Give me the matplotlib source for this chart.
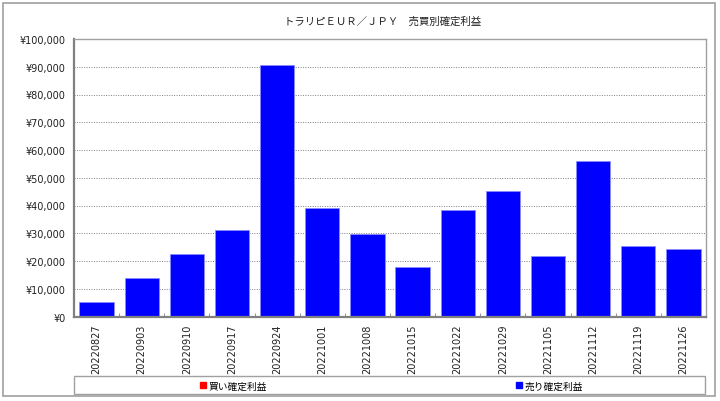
import matplotlib
matplotlib.use('Agg')
import matplotlib.pyplot as plt
from matplotlib.patches import Rectangle, Patch
from matplotlib.ticker import FuncFormatter, FixedLocator
import numpy as np

plt.rcParams['font.family'] = ['DejaVu Sans', 'Noto Sans CJK JP']

weeks = ['20220827', '20220903', '20220910', '20220917', '20220924', '20221001', '20221008',
         '20221015', '20221022', '20221029', '20221105', '20221112', '20221119', '20221126']
buy_profit = [0, 0, 0, 0, 0, 0, 0, 0, 0, 0, 0, 0, 0, 0]
sell_profit = [5400, 14000, 22600, 31000, 90500, 39000, 29600,
               17800, 38400, 45400, 21800, 55900, 25400, 24200]

title = 'トラリピＥＵＲ／ＪＰＹ　売買別確定利益'
buy_label = '買い確定利益'
sell_label = '売り確定利益'

W, H = 720, 402
fig = plt.figure(figsize=(W / 100, H / 100), dpi=100)
ax = fig.add_axes([74 / W, 1 - 317.5 / H, 632 / W, 277.5 / H])

x = np.arange(len(weeks))
ax.bar(x, buy_profit, width=0.76, color='#ff0000', edgecolor='#ff8080', linewidth=0.6)
ax.bar(x, sell_profit, width=0.76, bottom=buy_profit, color='#0000ff',
       edgecolor='#8c8cff', linewidth=0.6)

ax.set_xlim(-0.5, len(weeks) - 0.5)
ax.set_ylim(0, 100000)
ax.yaxis.set_major_locator(FixedLocator(np.arange(0, 100001, 10000)))
ax.yaxis.set_major_formatter(FuncFormatter(lambda v, p: '¥{:,.0f}'.format(v)))
ax.grid(axis='y', linestyle=(0, (1, 1.5)), color='#808080', linewidth=0.7)
ax.set_axisbelow(True)

ax.set_xticks(x)
ax.set_xticklabels(weeks, rotation=90, fontsize=7, color='#202020')
ax.set_xticks(np.arange(0.5, len(weeks) - 1, 1), minor=True)
ax.tick_params(axis='x', which='major', length=0, pad=5)
ax.tick_params(axis='x', which='minor', length=3, direction='in', color='#808080')
ax.tick_params(axis='y', length=0, pad=6, labelsize=7, labelcolor='#202020')

for side in ['left', 'bottom']:
    ax.spines[side].set_color('#808080')
    ax.spines[side].set_linewidth(1.6)
for side in ['top', 'right']:
    ax.spines[side].set_color('#a0a0a0')
    ax.spines[side].set_linewidth(1.0)

fig.text(383 / W, 1 - 22 / H, title, ha='center', va='center', fontsize=7.5,
         family=['Noto Sans CJK JP'], color='#202020')

# outer frame and legend box
fig.patches.append(Rectangle((3 / W, 1 - 397 / H), 712 / W, 393 / H, transform=fig.transFigure,
                             fill=False, edgecolor='#a0a0a0', linewidth=1.2))
fig.patches.append(Rectangle((74 / W, 1 - 395 / H), 631 / W, 18 / H, transform=fig.transFigure,
                             fill=False, edgecolor='#a0a0a0', linewidth=1.0))

for lab, col, xpos in [(buy_label, '#ff0000', 200), (sell_label, '#0000ff', 516)]:
    h = Patch(facecolor=col, edgecolor=col)
    lg = fig.legend([h], [lab], loc='center left', bbox_to_anchor=(xpos / W, 1 - 386.5 / H),
                    frameon=False, handlelength=0.6, handleheight=0.6,
                    handletextpad=0.3, borderpad=0, borderaxespad=0,
                    prop={'family': ['Noto Sans CJK JP'], 'size': 7})

fig.savefig('out.png', dpi=100)
